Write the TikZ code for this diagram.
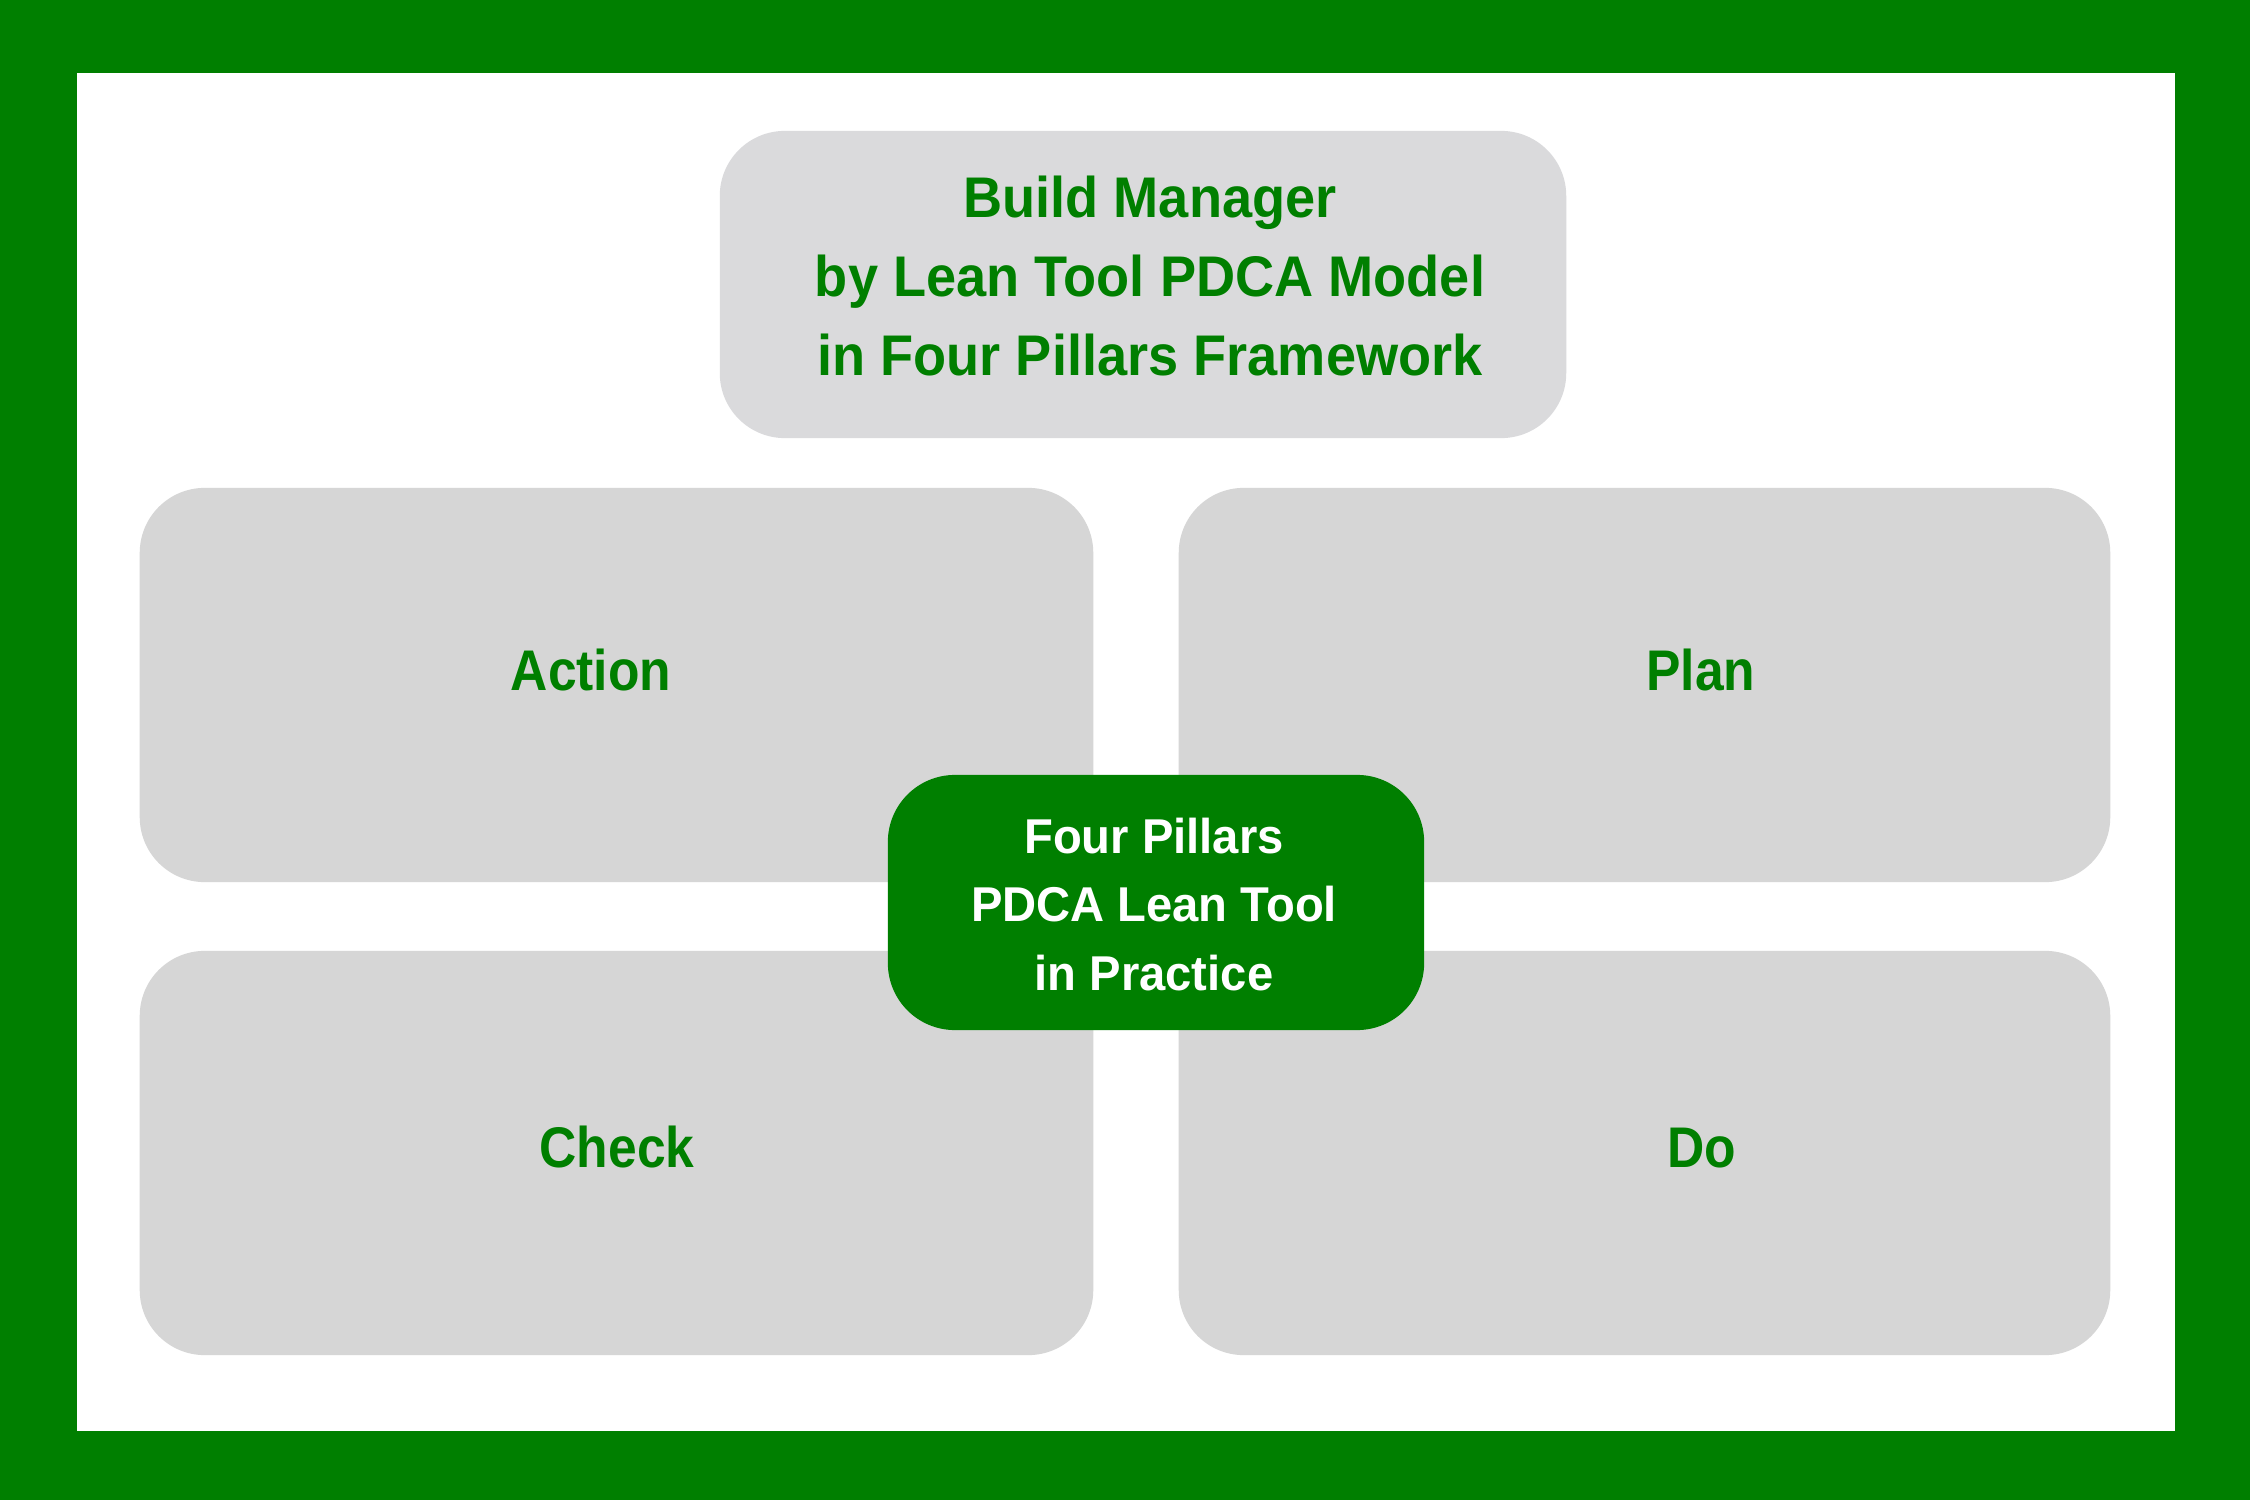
\documentclass[tikz,border=0pt]{standalone}
\usepackage{fontspec}
\usepackage{xcolor}
\usetikzlibrary{positioning}
\newfontfamily\pdcafont[FakeStretch=0.9]{Liberation Sans}
\newfontfamily\titlefont[FakeStretch=0.945]{Liberation Sans}
\newfontfamily\corefont[FakeStretch=0.965]{Liberation Sans}
\definecolor{framegreen}{RGB}{0,127,0}
\definecolor{titlegray}{RGB}{218,218,220}
\definecolor{quadgray}{RGB}{214,214,214}
\tikzset{
  titlebox/.style={fill=titlegray,rounded corners=0.65cm,minimum width=8.46cm,minimum height=3.07cm,inner sep=0pt},
  quad/.style={fill=quadgray,rounded corners=0.65cm,minimum height=3.94cm,inner sep=0pt},
  core/.style={fill=framegreen,rounded corners=0.67cm,minimum width=5.36cm,minimum height=2.55cm,inner sep=0pt},
  lbl/.style={text=framegreen,font=\pdcafont\bfseries\fontsize{16.3}{22.5}\selectfont,inner sep=0pt,anchor=base},
  titletxt/.style={text=framegreen,align=center,font=\titlefont\bfseries\fontsize{16.3}{22.5}\selectfont,inner sep=0pt},
  coretxt/.style={text=white,align=center,font=\corefont\bfseries\fontsize{13.9}{19.5}\selectfont,inner sep=0pt}
}
\begin{document}
\begin{tikzpicture}[x=0.01cm,y=-0.01cm]
\useasboundingbox (0,0) rectangle (2250,1500);
% frame
\fill[framegreen] (0,0) rectangle (2250,1500);
\fill[white] (77,73) rectangle (2175,1431);
% title
\node[titlebox](title) at (1143,284.5){};
\node[titletxt](titletext) at (1150,276){Build Manager\\by Lean Tool PDCA Model\\in Four Pillars Framework};
% the four pillars
\node[quad,minimum width=9.53cm](act) at (616.5,685){};
\node[quad,minimum width=9.31cm](plan) at (1644.5,685){};
\node[quad,minimum width=9.53cm,minimum height=4.04cm](check) at (616.5,1153){};
\node[quad,minimum width=9.31cm,minimum height=4.04cm](do) at (1644.5,1153){};
\node[lbl](actlbl) at (591,690){Action};
\node[lbl](planlbl) at (1701,690){Plan};
\node[lbl](checklbl) at (617,1167){Check};
\node[lbl](dolbl) at (1702,1167){Do};
% centre
\node[core](centre) at (1156,902.5){};
\node[coretxt](centretext) at (1154,904.5){Four Pillars\\PDCA Lean Tool\\in Practice};
\end{tikzpicture}
\end{document}
